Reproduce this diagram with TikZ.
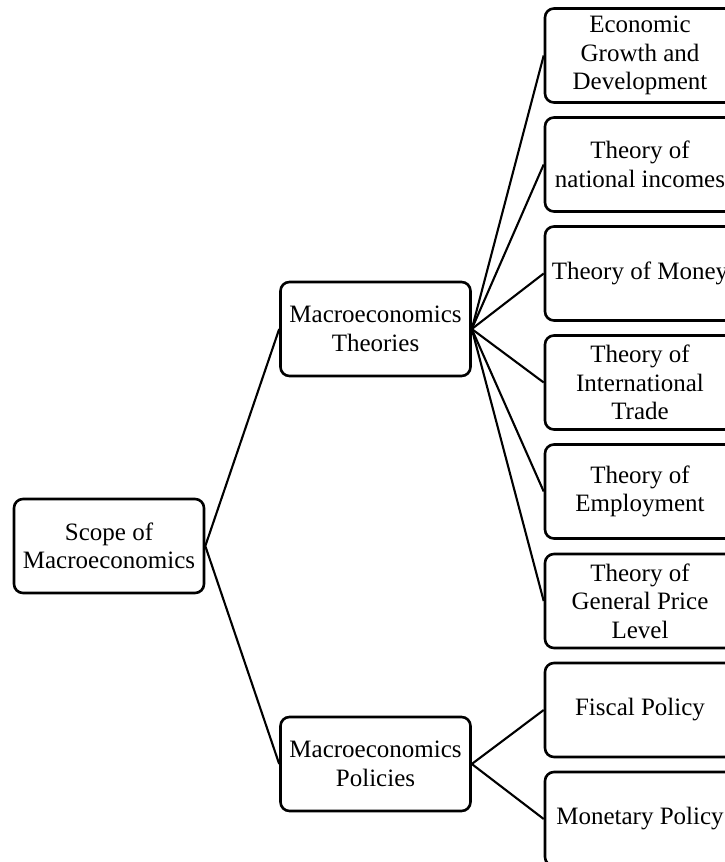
\documentclass[tikz,border=0pt]{standalone}
\usepackage{fontspec}
\setmainfont{Liberation Serif}
\begin{document}
\begin{tikzpicture}[x=1pt,y=-1pt,
  box/.style={draw, line width=2.6pt, rounded corners=9pt,
    minimum width=190pt, minimum height=94pt, inner sep=2pt,
    align=center, font=\fontsize{25}{28.5}\selectfont},
  link/.style={draw, line width=2.1pt}]
\useasboundingbox (0,0) rectangle (725,862);

% root and second level
\node[box] (scope) at (109,546) {Scope of\\Macroeconomics};
\node[box] (theo)  at (375.5,329) {Macroeconomics\\Theories};
\node[box] (pol)   at (375.5,764) {Macroeconomics\\Policies};

% theories
\node[box] (t1) at (640,55.5)  {Economic\\Growth and\\Development};
\node[box] (t2) at (640,164.5) {Theory of\\national incomes};
\node[box] (t3) at (640,273.5) {Theory of Money};
\node[box] (t4) at (640,382.5) {Theory of\\International\\Trade};
\node[box] (t5) at (640,491.5) {Theory of\\Employment};
\node[box] (t6) at (640,601)   {Theory of\\General Price\\Level};

% policies
\node[box] (p1) at (640,710) {Fiscal Policy};
\node[box] (p2) at (640,819) {Monetary Policy};

% connectors
\draw[link] (scope.east) -- (theo.west);
\draw[link] (scope.east) -- (pol.west);
\foreach \t in {t1,t2,t3,t4,t5,t6}
  \draw[link] (theo.east) -- (\t.west);
\foreach \p in {p1,p2}
  \draw[link] (pol.east) -- (\p.west);
\end{tikzpicture}
\end{document}
